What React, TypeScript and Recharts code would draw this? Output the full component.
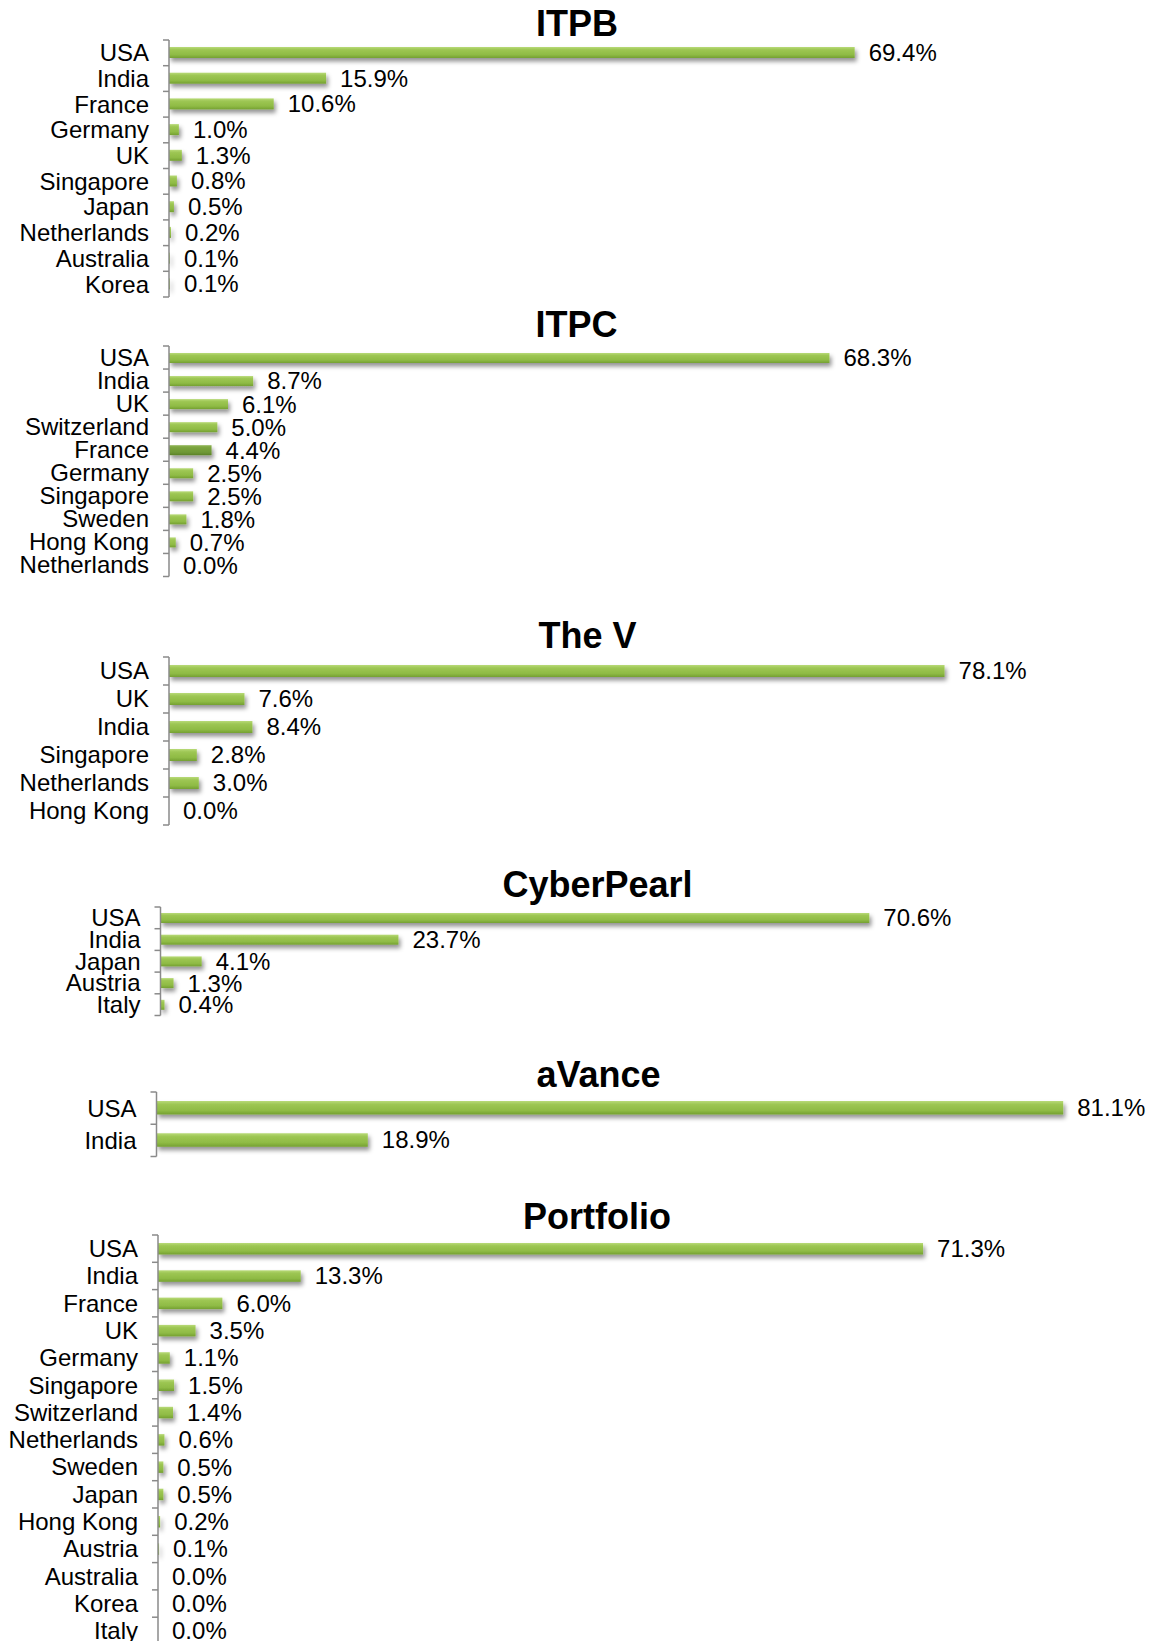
import React from "react";
import { BarChart, Bar, XAxis, YAxis, LabelList } from "recharts";

const FONT = '"Liberation Sans", Arial, Helvetica, sans-serif';

// ---------- data ----------
const itpbCountries = ["USA", "India", "France", "Germany", "UK", "Singapore", "Japan", "Netherlands", "Australia", "Korea"];
const itpbShares = [69.4, 15.9, 10.6, 1.0, 1.3, 0.8, 0.5, 0.2, 0.1, 0.1];

const itpcCountries = ["USA", "India", "UK", "Switzerland", "France", "Germany", "Singapore", "Sweden", "Hong Kong", "Netherlands"];
const itpcShares = [68.3, 8.7, 6.1, 5.0, 4.4, 2.5, 2.5, 1.8, 0.7, 0.0];
const itpcHighlighted = ["France"];

const theVCountries = ["USA", "UK", "India", "Singapore", "Netherlands", "Hong Kong"];
const theVShares = [78.1, 7.6, 8.4, 2.8, 3.0, 0.0];

const cyberCountries = ["USA", "India", "Japan", "Austria", "Italy"];
const cyberShares = [70.6, 23.7, 4.1, 1.3, 0.4];

const avanceCountries = ["USA", "India"];
const avanceShares = [81.1, 18.9];

const portfolioCountries = ["USA", "India", "France", "UK", "Germany", "Singapore", "Switzerland", "Netherlands", "Sweden", "Japan", "Hong Kong", "Austria", "Australia", "Korea", "Italy"];
const portfolioShares = [71.3, 13.3, 6.0, 3.5, 1.1, 1.5, 1.4, 0.6, 0.5, 0.5, 0.2, 0.1, 0.0, 0.0, 0.0];

const titles = ["ITPB", "ITPC", "The V", "CyberPearl", "aVance", "Portfolio"];

// ---------- layout ----------
type Layout = {
  top: number; bottom: number; axisX: number; pxPer: number; barSize: number; titleX: number; titleY: number;
};

const layouts: Layout[] = [
  { top: 40, bottom: 297, axisX: 169, pxPer: 9.88, barSize: 11, titleX: 577, titleY: 23 },
  { top: 346, bottom: 576.5, axisX: 169, pxPer: 9.67, barSize: 10, titleX: 576.5, titleY: 324 },
  { top: 657, bottom: 825, axisX: 169, pxPer: 9.93, barSize: 12, titleX: 587.5, titleY: 635 },
  { top: 907, bottom: 1015.5, axisX: 160.5, pxPer: 10.04, barSize: 10, titleX: 597.5, titleY: 884 },
  { top: 1091.5, bottom: 1156, axisX: 156.5, pxPer: 11.18, barSize: 13.5, titleX: 598.5, titleY: 1074.6 },
  { top: 1235, bottom: 1644.5, axisX: 158, pxPer: 10.73, barSize: 11.5, titleX: 597, titleY: 1216 },
];

const CHART_W = 1153;
const PAD = 24;

function buildRows(countries: string[], shares: number[], highlighted: string[] = []) {
  return countries.map((c, i) => ({ country: c, share: shares[i], hl: highlighted.includes(c) }));
}

const panelsData = [
  buildRows(itpbCountries, itpbShares),
  buildRows(itpcCountries, itpcShares, itpcHighlighted),
  buildRows(theVCountries, theVShares),
  buildRows(cyberCountries, cyberShares),
  buildRows(avanceCountries, avanceShares),
  buildRows(portfolioCountries, portfolioShares),
];

function Panel({ idx }: { idx: number }) {
  const L = layouts[idx];
  const data = panelsData[idx];
  const n = data.length;
  const plotH = L.bottom - L.top;
  const band = plotH / n;
  const xMax = (CHART_W - L.axisX) / L.pxPer;
  const H = plotH + PAD * 2;
  const gid = `g${idx}`;

  const renderTick = (props: any) => {
    const { y, payload, index } = props;
    const yTop = y - band / 2;
    return (
      <g>
        <line x1={L.axisX - 6} x2={L.axisX} y1={yTop} y2={yTop} stroke="#8a8a8a" strokeWidth={1.5} />
        {index === n - 1 && (
          <line x1={L.axisX - 6} x2={L.axisX} y1={y + band / 2} y2={y + band / 2} stroke="#8a8a8a" strokeWidth={1.5} />
        )}
        <text x={L.axisX - 20} y={y} dy="0.35em" textAnchor="end" fontSize={24} fontFamily={FONT} fill="#000">
          {payload.value}
        </text>
      </g>
    );
  };

  const renderShape = (props: any) => {
    const { x, y, width, height, payload } = props;
    if (!(width > 0)) return <g />;
    const fill = payload && payload.hl ? `url(#${gid}d)` : `url(#${gid}n)`;
    return <rect x={x} y={y} width={width} height={height} fill={fill} filter={`url(#${gid}s)`} />;
  };

  const renderLabel = (props: any) => {
    const { x, y, width, height, value } = props;
    return (
      <text x={x + (width || 0) + 14} y={y + height / 2} dy="0.35em" fontSize={24} fontFamily={FONT} fill="#000">
        {Number(value).toFixed(1)}%
      </text>
    );
  };

  return (
    <div style={{ position: "absolute", left: 0, top: L.top - PAD, width: CHART_W, height: H }}>
      <BarChart
        width={CHART_W}
        height={H}
        data={data}
        layout="vertical"
        margin={{ top: PAD, right: 0, bottom: PAD, left: 0 }}
      >
        <defs>
          <linearGradient id={`${gid}n`} x1="0" y1="0" x2="0" y2="1">
            <stop offset="0%" stopColor="#b8da78" />
            <stop offset="25%" stopColor="#9dc653" />
            <stop offset="70%" stopColor="#8fbb45" />
            <stop offset="100%" stopColor="#74a031" />
          </linearGradient>
          <linearGradient id={`${gid}d`} x1="0" y1="0" x2="0" y2="1">
            <stop offset="0%" stopColor="#8fb455" />
            <stop offset="25%" stopColor="#7aa33e" />
            <stop offset="70%" stopColor="#6f9836" />
            <stop offset="100%" stopColor="#5c8229" />
          </linearGradient>
          <filter id={`${gid}s`} filterUnits="userSpaceOnUse" x={-50} y={-50} width={CHART_W + 100} height={H + 100}>
            <feDropShadow dx={2} dy={3.5} stdDeviation={2} floodColor="#000" floodOpacity={0.42} />
          </filter>
        </defs>
        <XAxis type="number" hide domain={[0, xMax]} allowDataOverflow />
        <YAxis
          type="category"
          dataKey="country"
          width={L.axisX}
          interval={0}
          tickLine={false}
          axisLine={{ stroke: "#8a8a8a", strokeWidth: 1.5 }}
          tick={renderTick}
        />
        <Bar dataKey="share" barSize={L.barSize} isAnimationActive={false} shape={renderShape}>
          <LabelList dataKey="share" content={renderLabel} />
        </Bar>
      </BarChart>
    </div>
  );
}

export default function App() {
  return (
    <div
      style={{
        position: "absolute",
        left: 0,
        top: 0,
        width: 1153,
        height: 1641,
        overflow: "hidden",
        background: "#fff",
      }}
    >
      {layouts.map((_, i) => (
        <Panel key={i} idx={i} />
      ))}
      <svg width={1153} height={1641} style={{ position: "absolute", left: 0, top: 0, pointerEvents: "none" }}>
        {titles.map((t, i) => (
          <text
            key={t}
            x={layouts[i].titleX}
            y={layouts[i].titleY}
            dy="0.35em"
            textAnchor="middle"
            fontSize={36}
            fontWeight="bold"
            fontFamily={FONT}
            fill="#000"
          >
            {t}
          </text>
        ))}
      </svg>
    </div>
  );
}
